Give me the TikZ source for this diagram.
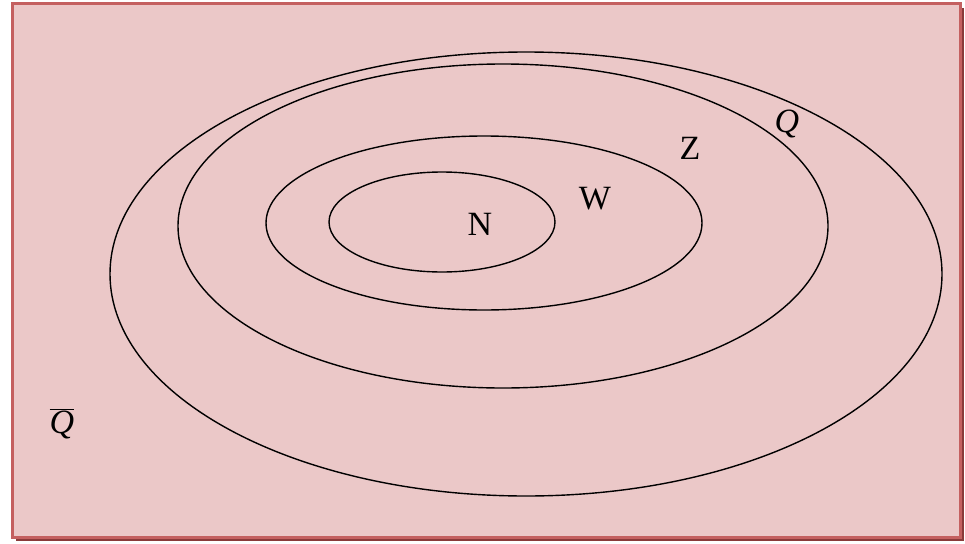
\documentclass[tikz,border=0pt]{standalone}
\usepackage{fontspec}
\setmainfont{Liberation Serif}
\definecolor{bgfill}{HTML}{EBC8C8}
\definecolor{bgedge}{HTML}{C46060}
\definecolor{shadowc}{HTML}{8A3A3A}
\begin{document}
\begin{tikzpicture}[x=1pt,y=-1pt,
  setline/.style={draw=black,line width=1.4pt},
  lbl/.style={font=\fontsize{34}{38}\selectfont,inner sep=0pt}]
\useasboundingbox (0,0) rectangle (965,543);
\fill[shadowc] (16,8) rectangle (964,541);
\draw[fill=bgfill,draw=bgedge,line width=3pt] (12,4) rectangle (960,537);
\draw[setline] (526,274) ellipse [x radius=416,y radius=222];
\draw[setline] (503,226) ellipse [x radius=325,y radius=162];
\draw[setline] (484,223) ellipse [x radius=218,y radius=87];
\draw[setline] (442,222) ellipse [x radius=113,y radius=50];
\node[lbl] (n) at (480,224) {N};
\node[lbl] (w) at (595,199) {W};
\node[lbl] (z) at (690,148) {Z};
\node[lbl] (q) at (787,124) {\itshape Q};
\node[lbl] (qbar) at (62,424) {$\overline{\mbox{\fontsize{34}{38}\selectfont\itshape Q}}$};
\end{tikzpicture}
\end{document}
